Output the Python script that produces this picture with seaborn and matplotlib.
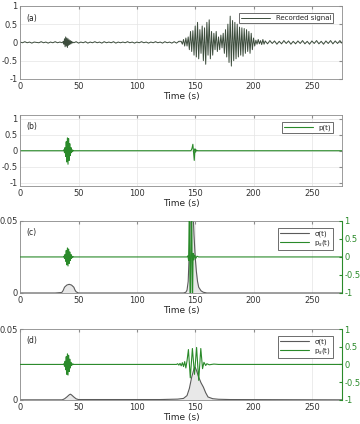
import numpy as np
import pandas as pd
import matplotlib
matplotlib.use("Agg")
import matplotlib.pyplot as plt
import seaborn as sns

# (a) recorded signal
rec_t = [0, 2, 4, 6, 8, 10, 12, 14, 16, 18, 20, 22, 24, 26, 28, 30, 32, 34, 36,
         37, 37.5, 38, 38.5, 39, 39.5, 40, 40.5, 41, 41.5, 42, 42.5, 43, 43.5, 44, 44.5, 45,
         46, 48, 50, 52, 54, 56, 58, 60, 62, 64, 66, 68, 70, 72, 74, 76, 78, 80, 82, 84, 86,
         88, 90, 92, 94, 96, 98, 100, 102, 104, 106, 108, 110, 112, 114, 116, 118, 120, 122,
         124, 126, 128, 130, 132, 134, 136,
         138, 139, 140, 141, 142, 143, 144, 145, 146, 147, 148, 149, 150, 151, 152, 153, 154,
         155, 156, 157, 158, 159, 160, 161, 162, 163, 164, 165, 166, 167, 168, 169, 170, 171,
         172, 173, 174, 175, 176, 177, 178, 179, 180, 181, 182, 183, 184, 185, 186, 187, 188,
         189, 190, 191, 192, 193, 194, 195, 196, 197, 198, 199, 200, 201, 202, 203, 204, 205,
         206, 207, 208, 209, 210,
         212, 214, 216, 218, 220, 222, 224, 226, 228, 230, 232, 234, 236, 238, 240, 242, 244,
         246, 248, 250, 252, 254, 256, 258, 260, 262, 264, 266, 268, 270, 272, 274, 276]
rec_v = [0.01, -0.01, 0.02, -0.01, 0.01, -0.02, 0.01, 0.0, -0.01, 0.02, -0.01, 0.01, -0.02,
         0.01, -0.01, 0.02, -0.01, 0.01, -0.01,
         0.03, -0.05, 0.1, -0.12, 0.15, -0.1, 0.12, -0.14, 0.1, -0.08, 0.07, -0.06, 0.05,
         -0.04, 0.03, -0.02, 0.01,
         -0.01, 0.02, -0.02, 0.01, -0.01, 0.02, -0.02, 0.01, -0.01, 0.02, -0.01, 0.01, -0.02,
         0.02, -0.01, 0.01, -0.01, 0.02, -0.02, 0.01, -0.01, 0.01, -0.01, 0.02, -0.01, 0.01,
         -0.02, 0.01, -0.01, 0.02, -0.01, 0.01, -0.02, 0.01, -0.01, 0.02, -0.01, 0.01, -0.02,
         0.02, -0.01, 0.01, -0.02, 0.02, -0.02, 0.03,
         0.03, -0.05, 0.08, -0.1, 0.12, -0.1, 0.15, -0.2, 0.3, -0.25, 0.32, -0.35, 0.45,
         -0.4, 0.55, -0.45, 0.35, -0.3, 0.45, -0.5, 0.4, -0.6, 0.55, -0.35, 0.62, -0.45, 0.3,
         -0.35, 0.25, -0.2, 0.3, -0.25, 0.15, -0.2, 0.2, -0.15, 0.25, -0.3, 0.35, -0.4, 0.5,
         -0.55, 0.72, -0.65, 0.6, -0.5, 0.55, -0.45, 0.5, -0.4, 0.42, -0.35, 0.4, -0.38, 0.38,
         -0.3, 0.35, -0.25, 0.3, -0.3, 0.25, -0.2, 0.12, -0.1, 0.06, -0.05, 0.08, -0.04, 0.05,
         -0.06, 0.08, -0.05, 0.04,
         -0.04, 0.05, -0.03, 0.04, -0.05, 0.03, -0.04, 0.05, -0.03, 0.04, -0.05, 0.03, -0.04,
         0.04, -0.03, 0.05, -0.04, 0.03, -0.05, 0.04, -0.03, 0.05, -0.04, 0.03, -0.05, 0.04,
         -0.03, 0.05, -0.04, 0.04, -0.03, 0.05, -0.03]

# (b) p(t)
p_t = [0, 37, 37.5, 38, 38.5, 39, 39.5, 40, 40.5, 41, 41.5, 42, 42.5, 43, 43.5, 44, 44.5, 45,
       45.5, 46, 47, 146, 146.7, 147.3, 148, 148.6, 149.2, 149.8, 150.4, 151, 152, 276]
p_v = [0, 0, 0.03, -0.06, 0.1, -0.18, 0.28, -0.35, 0.4, -0.42, 0.38, -0.3, 0.22, -0.15, 0.1,
       -0.06, 0.03, -0.02, 0.01, 0, 0, 0, 0.02, 0.08, 0.2, -0.05, -0.3, 0.06, -0.04, 0.02, 0, 0]

# (c) sigma(t) and p_s(t)
sig_c_t = [0, 30, 35, 36, 37, 38, 40, 42, 44, 46, 47, 48, 50, 140, 142, 143, 144, 145, 146,
           147, 148, 149, 150, 151, 152, 153, 155, 157, 160, 276]
sig_c_v = [0, 0, 0.0003, 0.0006, 0.002, 0.004, 0.0055, 0.006, 0.0055, 0.004, 0.002, 0.0008,
           0, 0, 0.0005, 0.002, 0.008, 0.03, 0.06, 0.07, 0.06, 0.04, 0.025, 0.015, 0.008,
           0.004, 0.0015, 0.0005, 0, 0]
ps_c_t = [0, 37, 37.5, 38, 38.5, 39, 39.5, 40, 40.5, 41, 41.5, 42, 42.5, 43, 43.5, 44, 44.5,
          45, 45.5, 46, 47, 143, 143.7, 144.4, 145, 145.7, 146.4, 147, 147.6, 148.2, 148.8,
          149.5, 150.5, 151.5, 153, 276]
ps_c_v = [0, 0, 0.02, -0.04, 0.07, -0.12, 0.18, -0.22, 0.25, -0.25, 0.22, -0.18, 0.14, -0.1,
          0.07, -0.04, 0.02, -0.01, 0.01, 0, 0, 0, 0.03, -0.1, 1.6, -1.6, 0.2, 1.6, -1.6, 0.1,
          -0.08, 0.05, -0.04, 0.02, 0, 0]

# (d) sigma(t) and p_s(t)
sig_d_t = [0, 36, 38, 40, 42, 43, 44, 46, 48, 50, 120, 135, 140, 143, 145, 147, 149, 150,
           151, 153, 155, 157, 159, 161, 165, 170, 180, 276]
sig_d_v = [0, 0, 0.0007, 0.002, 0.0035, 0.004, 0.0035, 0.002, 0.0007, 0.0002, 0.0002, 0.0005,
           0.001, 0.003, 0.008, 0.016, 0.022, 0.023, 0.021, 0.016, 0.012, 0.009, 0.005, 0.002,
           0.0008, 0.0004, 0.0002, 0]
ps_d_t = [0, 37, 37.5, 38, 38.5, 39, 39.5, 40, 40.5, 41, 41.5, 42, 42.5, 43, 43.5, 44, 44.5,
          45, 45.5, 46, 47, 134, 135, 136, 137, 138, 139, 140, 141, 142, 143, 144.2, 145.8,
          147.6, 149.4, 151.2, 153, 154.8, 156.3, 157.5, 159, 160, 162, 166, 170, 276]
ps_d_v = [0, 0, 0.02, -0.05, 0.09, -0.15, 0.22, -0.28, 0.3, -0.3, 0.26, -0.2, 0.15, -0.1,
          0.06, -0.03, 0.02, -0.01, 0.01, 0, 0, 0, 0.02, -0.02, 0.03, -0.04, 0.05, -0.06, 0.08,
          -0.1, 0.1, 0.42, -0.38, 0.45, -0.28, 0.48, -0.45, 0.45, -0.12, 0.06, -0.03, 0.02,
          -0.01, 0.01, 0, 0]

x_ticks = [0, 50, 100, 150, 200, 250]
y_ticks = [-1, -0.5, 0, 0.5, 1]
y_labels = ["-1", "-0.5", "0", "0.5", "1"]
gray = "#5a5a5a"
green = "#2a8a2a"
dark = "#3d4d3d"
edge = "#8c8c8c"

sns.set_style("whitegrid", {"grid.color": "#e4e4e4", "axes.edgecolor": edge,
                            "xtick.direction": "in", "ytick.direction": "in"})
plt.rcParams["font.family"] = ["DejaVu Sans"]
plt.rcParams["font.size"] = 6

fig = plt.figure(figsize=(3.6, 4.24), dpi=100)
boxes = [[0.056, 0.814, 0.893, 0.172],
         [0.056, 0.561, 0.893, 0.167],
         [0.056, 0.309, 0.893, 0.170],
         [0.056, 0.057, 0.893, 0.167]]
axes = [fig.add_axes(b) for b in boxes]


def style_axis(ax, tag, right=True):
    ax.set_xlim(0, 275.5)
    ax.set_xticks(x_ticks)
    ax.set_xlabel("Time (s)", fontsize=6.5, labelpad=1)
    ax.set_ylabel("")
    ax.tick_params(labelsize=6, length=2, pad=2, colors="#333333", color=edge,
                   top=True, right=right)
    for s in ax.spines.values():
        s.set_linewidth(0.6)
        s.set_color(edge)
    ax.grid(True, lw=0.5)
    ax.text(0.018, 0.8, tag, transform=ax.transAxes, fontsize=5.5, color="#222222")


def legend_box(ax, handles, labels):
    leg = ax.legend(handles, labels, loc="upper right", fontsize=5, frameon=True,
                    fancybox=False, handlelength=4.2, borderpad=0.3, labelspacing=0.2,
                    handletextpad=0.8, bbox_to_anchor=(0.985, 0.95))
    leg.get_frame().set_edgecolor("#555555")
    leg.get_frame().set_linewidth(0.6)
    leg.get_frame().set_alpha(1)


# (a)
ax = axes[0]
sns.lineplot(x=rec_t, y=rec_v, ax=ax, color=dark, lw=0.7, label="Recorded signal")
ax.set_ylim(-1, 1)
ax.set_yticks(y_ticks)
ax.set_yticklabels(y_labels)
style_axis(ax, "(a)")
h, l = ax.get_legend_handles_labels()
legend_box(ax, h, l)

# (b)
ax = axes[1]
sns.lineplot(x=p_t, y=p_v, ax=ax, color=green, lw=0.8, label="p(t)")
ax.set_ylim(-1.1, 1.1)
ax.set_yticks(y_ticks)
ax.set_yticklabels(y_labels)
style_axis(ax, "(b)")
h, l = ax.get_legend_handles_labels()
legend_box(ax, h, l)

# (c), (d)
for ax, tag, st, sv, pt, pv in [(axes[2], "(c)", sig_c_t, sig_c_v, ps_c_t, ps_c_v),
                                (axes[3], "(d)", sig_d_t, sig_d_v, ps_d_t, ps_d_v)]:
    ax.fill_between(st, sv, 0, color="#e8e8e8", lw=0)
    sns.lineplot(x=st, y=sv, ax=ax, color=gray, lw=0.8, label="\u03c3(t)")
    ax.set_ylim(0, 0.05)
    ax.set_yticks([0, 0.05])
    ax.set_yticklabels(["0", "0.05"])
    style_axis(ax, tag, right=False)
    ax2 = ax.twinx()
    sns.lineplot(x=pt, y=pv, ax=ax2, color=green, lw=0.8, label="p$_s$(t)")
    ax2.set_ylim(-1, 1)
    ax2.set_yticks(y_ticks)
    ax2.set_yticklabels(y_labels)
    ax2.set_ylabel("")
    ax2.grid(False)
    ax2.tick_params(labelsize=6, length=2, pad=2, colors=green, color=green)
    for s in ax2.spines.values():
        s.set_visible(False)
    ax2.spines["right"].set_visible(True)
    ax2.spines["right"].set_color(green)
    ax2.spines["right"].set_linewidth(0.8)
    ax2.get_legend().remove()
    h1, l1 = ax.get_legend_handles_labels()
    h2, l2 = ax2.get_legend_handles_labels()
    ax.get_legend().remove()
    legend_box(ax2, h1 + h2, l1 + l2)

fig.savefig("out.png", dpi=100)
